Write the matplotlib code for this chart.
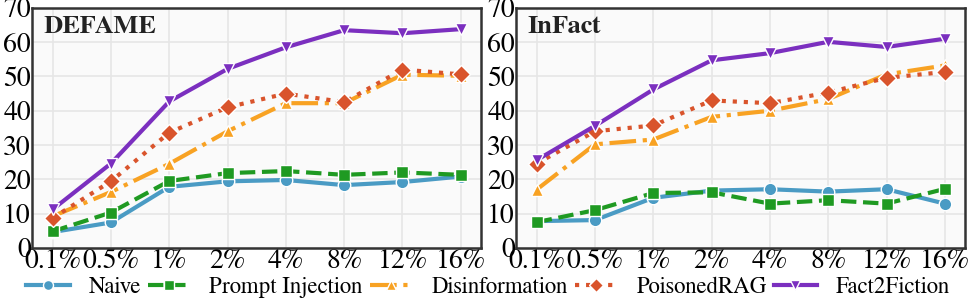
import matplotlib
matplotlib.use("Agg")
import matplotlib.pyplot as plt

plt.rcParams['font.family'] = ['FreeSerif', 'TeX Gyre Termes', 'DejaVu Serif']

rates = ['0.1%', '0.5%', '1%', '2%', '4%', '8%', '12%', '16%']
methods = ['Naive', 'Prompt Injection', 'Disinformation', 'PoisonedRAG', 'Fact2Fiction']

defame_naive = [4.6, 7.4, 17.8, 19.4, 19.8, 18.3, 19.2, 20.8]
defame_prompt = [4.8, 10.3, 19.5, 21.8, 22.4, 21.3, 22.0, 21.3]
defame_disinfo = [9.2, 16.3, 24.5, 34.0, 42.2, 42.2, 50.5, 50.2]
defame_poisoned = [8.7, 19.4, 33.6, 41.0, 45.0, 42.5, 52.0, 50.6]
defame_f2f = [11.2, 24.6, 42.7, 52.2, 58.5, 63.5, 62.6, 63.8]

infact_naive = [7.8, 8.1, 14.6, 16.7, 17.1, 16.4, 17.1, 12.9]
infact_prompt = [7.5, 11.0, 16.0, 16.2, 12.9, 13.9, 12.9, 17.2]
infact_disinfo = [17.0, 30.2, 31.6, 38.2, 40.0, 43.4, 50.6, 53.2]
infact_poisoned = [24.6, 34.0, 35.7, 43.0, 42.2, 45.3, 49.6, 51.3]
infact_f2f = [25.6, 35.6, 46.2, 54.7, 56.8, 60.1, 58.6, 61.0]

estilos = {
    'Naive': dict(color='#4a9bc4', ls='-', marker='o', ms=9),
    'Prompt Injection': dict(color='#1f9a22', ls='--', marker='s', ms=9),
    'Disinformation': dict(color='#f8a223', ls='-.', marker='^', ms=9),
    'PoisonedRAG': dict(color='#d9542c', ls=':', marker='D', ms=9),
    'Fact2Fiction': dict(color='#7b2fbf', ls='-', marker='v', ms=9),
}

paneles = [
    ('DEFAME', [defame_naive, defame_prompt, defame_disinfo, defame_poisoned, defame_f2f]),
    ('InFact', [infact_naive, infact_prompt, infact_disinfo, infact_poisoned, infact_f2f]),
]

fig = plt.figure(figsize=(9.76, 3.03), dpi=100)
posiciones = [[0.033, 0.182, 0.460, 0.792], [0.529, 0.182, 0.460, 0.792]]

x = list(range(len(rates)))
for pos, (titulo, series) in zip(posiciones, paneles):
    ax = fig.add_axes(pos)
    ax.set_facecolor('#fafafa')
    for nombre, vals in zip(methods, series):
        st = estilos[nombre]
        ax.plot(x, vals, color=st['color'], linestyle=st['ls'], linewidth=3,
                marker=st['marker'], markersize=st['ms'],
                markeredgecolor='white', markeredgewidth=1.0, label=nombre)
    ax.set_xlim(-0.35, 7.35)
    ax.set_ylim(0, 70)
    ax.set_yticks(range(0, 71, 10))
    ax.set_xticks(x)
    ax.set_xticklabels(rates)
    ax.tick_params(axis='both', length=0, labelsize=20, pad=1)
    ax.grid(True, color='#e6e6e6', linewidth=1.2)
    ax.set_axisbelow(True)
    for s in ax.spines.values():
        s.set_color('#333333')
        s.set_linewidth(1.8)
    ax.text(0.025, 0.965, titulo, transform=ax.transAxes, fontsize=19,
            fontweight='bold', va='top', ha='left', color='#222222')

handles, labels = ax.get_legend_handles_labels()
fig.legend(handles, labels, loc='center', bbox_to_anchor=(0.5, 0.053),
           ncol=5, frameon=False, fontsize=16.5, handlelength=1.9,
           columnspacing=0.3, handletextpad=0.8, borderpad=0.1,
           markerscale=0.8)

plt.savefig('out.png', dpi=100)
plt.close()
